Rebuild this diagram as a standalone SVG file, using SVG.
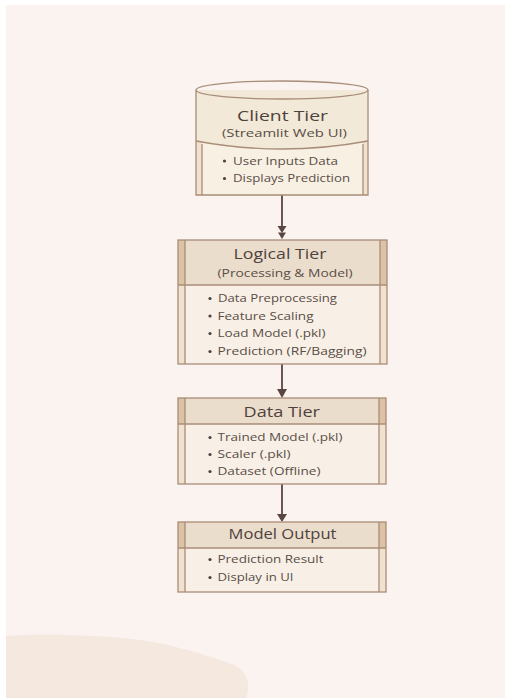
<svg xmlns="http://www.w3.org/2000/svg" width="505" height="698" viewBox="0 0 505 698">
<style>
.t{font-family:"Open Sans","Noto Sans","DejaVu Sans",sans-serif;fill:#4e423d;font-size:14px}
.s{font-family:"Open Sans","Noto Sans","DejaVu Sans",sans-serif;fill:#5a4d47;font-size:11px}
.b{font-family:"Open Sans","Noto Sans","DejaVu Sans",sans-serif;fill:#5a4d47;font-size:10.5px}
.edge{stroke:#a88d78;stroke-width:1.3;fill:none}
.hdr{fill:#ebddcc}
.body{fill:#f8f0e6}
.barh{fill:#dcc3a6}
.barb{fill:#f0e2cf}
.dot{fill:#4e423d}
.arr{stroke:#5a4540;stroke-width:1.8;fill:none}
.ah{fill:#5a4540}
</style>
<rect width="505" height="698" fill="#ffffff"/>
<rect x="6" y="5" width="499" height="693" fill="#fbf3ef"/>
<path d="M6,636 C50,633 110,636 140,640 C175,645 205,655 232,664 C250,672 250,688 246,698 L6,698 Z" fill="#f5e8de"/>

<g id="connectors">
<line class="arr" x1="282" y1="195" x2="282" y2="227"/>
<polygon class="ah" points="277.5,226 286.5,226 282,233"/>
<polygon class="ah" points="278,232.5 286,232.5 282,239"/>
<line class="arr" x1="282" y1="364" x2="282" y2="390"/>
<polygon class="ah" points="277,389 287,389 282,398"/>
<line class="arr" x1="282" y1="484" x2="282" y2="515"/>
<polygon class="ah" points="277,514 287,514 282,522"/>
</g>

<g id="client-tier">
<path d="M196,90 L196,195 L368,195 L368,90 Z" fill="#f2e9d8"/>
<path d="M196,141 Q282,157 368,141 L368,195 L196,195 Z" fill="#f8f0e3"/>
<rect x="196" y="140" width="6" height="55" class="barb"/>
<rect x="363" y="140" width="5" height="55" class="barb"/>
<ellipse cx="282" cy="90" rx="86" ry="9" fill="#f5eddd" class="edge"/>
<path class="edge" d="M196,90 L196,195 L368,195 L368,90"/>
<path class="edge" d="M196,141 Q282,157 368,141"/>
<line class="edge" x1="202" y1="144" x2="202" y2="195"/>
<line class="edge" x1="363" y1="144" x2="363" y2="195"/>
<text class="t" x="237" y="121" textLength="91" lengthAdjust="spacingAndGlyphs">Client Tier</text>
<text class="s" x="222" y="137" textLength="125" lengthAdjust="spacingAndGlyphs">(Streamlit Web UI)</text>
<circle class="dot" cx="224.5" cy="161" r="1.6"/>
<text class="b" x="233" y="164.5" textLength="105" lengthAdjust="spacingAndGlyphs">User Inputs Data</text>
<circle class="dot" cx="224.5" cy="178.5" r="1.6"/>
<text class="b" x="233" y="182" textLength="117" lengthAdjust="spacingAndGlyphs">Displays Prediction</text>
</g>

<g id="logical-tier">
<rect x="178" y="240" width="209" height="45" class="hdr"/>
<rect x="178" y="285" width="209" height="79" class="body"/>
<rect x="178" y="240" width="7" height="45" class="barh"/>
<rect x="380" y="240" width="7" height="45" class="barh"/>
<rect x="178" y="285" width="7" height="79" class="barb"/>
<rect x="380" y="285" width="7" height="79" class="barb"/>
<rect x="178" y="240" width="209" height="124" class="edge"/>
<line class="edge" x1="185" y1="240" x2="185" y2="364"/>
<line class="edge" x1="380" y1="240" x2="380" y2="364"/>
<line class="edge" x1="178" y1="285" x2="387" y2="285"/>
<text class="t" x="233.5" y="259" textLength="93" lengthAdjust="spacingAndGlyphs">Logical Tier</text>
<text class="s" x="217.5" y="277" textLength="135" lengthAdjust="spacingAndGlyphs">(Processing &amp; Model)</text>
<circle class="dot" cx="210" cy="298.5" r="1.6"/>
<text class="b" x="218" y="302" textLength="119" lengthAdjust="spacingAndGlyphs">Data Preprocessing</text>
<circle class="dot" cx="210" cy="316" r="1.6"/>
<text class="b" x="217.5" y="319.5" textLength="96" lengthAdjust="spacingAndGlyphs">Feature Scaling</text>
<circle class="dot" cx="210" cy="333.5" r="1.6"/>
<text class="b" x="217.5" y="337" textLength="108" lengthAdjust="spacingAndGlyphs">Load Model (.pkl)</text>
<circle class="dot" cx="210" cy="351.5" r="1.6"/>
<text class="b" x="217.5" y="355" textLength="149" lengthAdjust="spacingAndGlyphs">Prediction (RF/Bagging)</text>
</g>

<g id="data-tier">
<rect x="178" y="398" width="208" height="26" class="hdr"/>
<rect x="178" y="424" width="208" height="60" class="body"/>
<rect x="178" y="398" width="7" height="26" class="barh"/>
<rect x="379" y="398" width="7" height="26" class="barh"/>
<rect x="178" y="424" width="7" height="60" class="barb"/>
<rect x="379" y="424" width="7" height="60" class="barb"/>
<rect x="178" y="398" width="208" height="86" class="edge"/>
<line class="edge" x1="185" y1="398" x2="185" y2="484"/>
<line class="edge" x1="379" y1="398" x2="379" y2="484"/>
<line class="edge" x1="178" y1="424" x2="386" y2="424"/>
<text class="t" x="243.5" y="416.5" textLength="76.5" lengthAdjust="spacingAndGlyphs">Data Tier</text>
<circle class="dot" cx="210" cy="437.5" r="1.6"/>
<text class="b" x="217.5" y="441" textLength="125" lengthAdjust="spacingAndGlyphs">Trained Model (.pkl)</text>
<circle class="dot" cx="210" cy="454.5" r="1.6"/>
<text class="b" x="217.5" y="458" textLength="73" lengthAdjust="spacingAndGlyphs">Scaler (.pkl)</text>
<circle class="dot" cx="210" cy="471.5" r="1.6"/>
<text class="b" x="217.5" y="475" textLength="103" lengthAdjust="spacingAndGlyphs">Dataset (Offline)</text>
</g>

<g id="model-output">
<rect x="178" y="522" width="208" height="26" class="hdr"/>
<rect x="178" y="548" width="208" height="44" class="body"/>
<rect x="178" y="522" width="7" height="26" class="barh"/>
<rect x="379" y="522" width="7" height="26" class="barh"/>
<rect x="178" y="548" width="7" height="44" class="barb"/>
<rect x="379" y="548" width="7" height="44" class="barb"/>
<rect x="178" y="522" width="208" height="70" class="edge"/>
<line class="edge" x1="185" y1="522" x2="185" y2="592"/>
<line class="edge" x1="379" y1="522" x2="379" y2="592"/>
<line class="edge" x1="178" y1="548" x2="386" y2="548"/>
<text class="t" x="228.5" y="539" textLength="108" lengthAdjust="spacingAndGlyphs">Model Output</text>
<circle class="dot" cx="210" cy="559.5" r="1.6"/>
<text class="b" x="217.5" y="563" textLength="106" lengthAdjust="spacingAndGlyphs">Prediction Result</text>
<circle class="dot" cx="210" cy="577.5" r="1.6"/>
<text class="b" x="217.5" y="581" textLength="76" lengthAdjust="spacingAndGlyphs">Display in UI</text>
</g>
</svg>
